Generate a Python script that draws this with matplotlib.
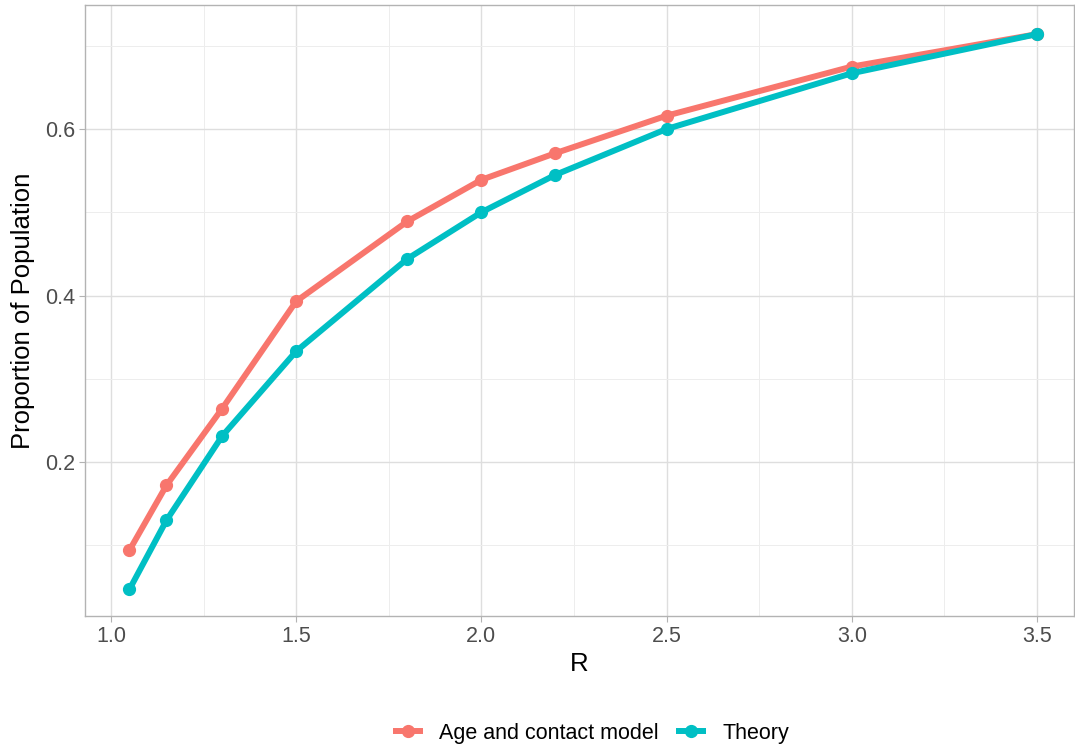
import matplotlib
matplotlib.use("Agg")
from matplotlib import pyplot as plt

plt.rcParams['font.family'] = ['Liberation Sans', 'DejaVu Sans']

# R の値
r_values = [1.05, 1.15, 1.3, 1.5, 1.8, 2.0, 2.2, 2.5, 3.0, 3.5]
# 年齢・接触モデル
age_contact = [0.094, 0.172, 0.264, 0.393, 0.489, 0.539, 0.571, 0.616, 0.675, 0.714]
# 理論値
theory = [0.047, 0.130, 0.231, 0.333, 0.444, 0.500, 0.545, 0.600, 0.667, 0.714]

series_names = ["Age and contact model", "Theory"]
colors = ["#F8766D", "#00BFC4"]

fig = plt.figure(figsize=(10.75, 7.49), dpi=100)
ax = fig.add_axes([85 / 1075, 133 / 749, 989 / 1075, 611 / 749])

for ys, name, c in zip([age_contact, theory], series_names, colors):
    ax.plot(r_values, ys, color=c, lw=4.3, marker='o', ms=8.5,
            solid_capstyle='butt', label=name, zorder=3)

ax.set_xlim(0.93, 3.6)
ax.set_ylim(0.015, 0.749)
ax.set_xticks([1.0, 1.5, 2.0, 2.5, 3.0, 3.5])
ax.set_xticks([1.25, 1.75, 2.25, 2.75, 3.25], minor=True)
ax.set_yticks([0.2, 0.4, 0.6])
ax.set_yticks([0.1, 0.3, 0.5, 0.7], minor=True)

ax.grid(which='major', color='#DEDEDE', lw=1.0)
ax.grid(which='minor', color='#EDEDED', lw=0.7)
ax.set_axisbelow(True)
for s in ax.spines.values():
    s.set_color('#B3B3B3')
    s.set_linewidth(1.0)
ax.tick_params(which='major', length=4, color='#B3B3B3', labelsize=15.5,
               labelcolor='#4D4D4D', pad=3)
ax.tick_params(which='minor', length=0)

ax.set_xlabel("R", fontsize=18.5, color='black', labelpad=4)
ax.set_ylabel("Proportion of Population", fontsize=18.5, color='black', labelpad=7)

fig.legend(loc='center', bbox_to_anchor=(591 / 1075, 1 - 733 / 749), ncol=2,
           frameon=False, fontsize=15.5, handlelength=1.4, columnspacing=0.8,
           handletextpad=0.75)

fig.savefig("out.png", dpi=100)
